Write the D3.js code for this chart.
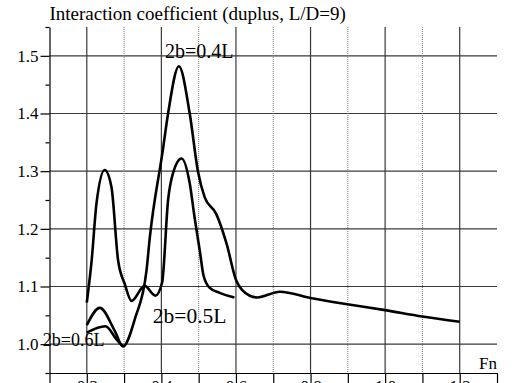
<!DOCTYPE html>
<html>
<head>
<meta charset="utf-8">
<script src="https://cdn.jsdelivr.net/npm/d3@7"></script>
<style>
    body { margin: 0; background: #fff; }
    svg text { font-family: "Liberation Serif", "Times New Roman", serif; fill: #000; }
</style>
</head>
<body>
<svg id="chart" width="514" height="383"></svg>
<script>
// values (Fn, interaction coefficient)
var fn04 = [0.2, 0.235, 0.275, 0.297, 0.33, 0.36, 0.369, 0.404, 0.418, 0.447, 0.476, 0.498, 0.516, 0.547, 0.575, 0.601, 0.637, 0.657, 0.718, 0.8, 0.89, 1.0, 1.1, 1.2];
var k04 = [1.033, 1.063, 1.023, 0.996, 1.046, 1.127, 1.185, 1.337, 1.40, 1.482, 1.40, 1.30, 1.255, 1.226, 1.174, 1.11, 1.084, 1.081, 1.091, 1.08, 1.07, 1.059, 1.048, 1.039];

var fn05 = [0.2, 0.213, 0.226, 0.248, 0.266, 0.284, 0.302, 0.32, 0.355, 0.384, 0.402, 0.418, 0.431, 0.454, 0.476, 0.489, 0.503, 0.513, 0.529, 0.556, 0.596];
var k05 = [1.072, 1.145, 1.244, 1.302, 1.273, 1.145, 1.104, 1.075, 1.101, 1.084, 1.107, 1.25, 1.296, 1.322, 1.279, 1.22, 1.162, 1.119, 1.098, 1.089, 1.081];

var fn06 = [0.2, 0.25, 0.28, 0.297];
var k06 = [1.02, 1.031, 1.008, 0.996];

var xTicks = [0.1, 0.2, 0.3, 0.4, 0.5, 0.6, 0.7, 0.8, 0.9, 1.0, 1.1, 1.2, 1.3];
var xLabelTicks = [0.2, 0.4, 0.6, 0.8, 1.0, 1.2];
var xDottedTicks = [0.3, 0.5, 0.7, 0.9, 1.1];
var yMajorTicks = [1.0, 1.1, 1.2, 1.3, 1.4, 1.5];
var yMinorTicks = [0.95, 1.05, 1.15, 1.25, 1.35, 1.45, 1.55];

var titleText = "Interaction coefficient (duplus, L/D=9)";
var labelText = ["2b=0.4L", "2b=0.5L", "2b=0.6L", "Fn"];
var labelFn = [0.41, 0.377, 0.082, 1.252];
var labelK = [1.497, 1.037, 0.997, 0.957];

var draw = function() {
    var svg = d3.select("#chart");

    var x = d3.scaleLinear().domain([0.1, 1.3]).range([49.5, 497]);
    var y = d3.scaleLinear().domain([0.95, 1.55]).range([373, 27]);

    // grid
    var grid = svg.append("g").attr("class", "grid");
    grid.selectAll("line.h").data(yMajorTicks).enter().append("line")
        .attr("class", "h")
        .attr("x1", x(0.1)).attr("x2", x(1.3))
        .attr("y1", function(d) { return y(d); })
        .attr("y2", function(d) { return y(d); })
        .attr("stroke", "#3a3a3a").attr("stroke-width", 1.2);

    grid.selectAll("line.v").data(xLabelTicks).enter().append("line")
        .attr("class", "v")
        .attr("x1", function(d) { return x(d); })
        .attr("x2", function(d) { return x(d); })
        .attr("y1", y(1.55)).attr("y2", y(0.95))
        .attr("stroke", "#3a3a3a").attr("stroke-width", 1.2);

    grid.selectAll("line.d").data(xDottedTicks).enter().append("line")
        .attr("class", "d")
        .attr("x1", function(d) { return x(d); })
        .attr("x2", function(d) { return x(d); })
        .attr("y1", y(1.55)).attr("y2", y(0.95))
        .attr("stroke", "#777").attr("stroke-dasharray", "1,1");

    // axes
    svg.append("g")
        .attr("transform", "translate(" + x(0.1) + ",0)")
        .call(d3.axisLeft(y).tickValues(yMinorTicks).tickSize(4).tickSizeOuter(0).tickFormat(""));

    var yAxis = svg.append("g")
        .attr("transform", "translate(" + x(0.1) + ",0)")
        .call(d3.axisLeft(y).tickValues(yMajorTicks).tickSize(9).tickSizeOuter(0)
            .tickPadding(2).tickFormat(d3.format(".1f")))
        .attr("font-size", 17);
    yAxis.select(".domain").remove();

    svg.append("g")
        .attr("transform", "translate(0," + y(0.95) + ")")
        .call(d3.axisBottom(x).tickValues(xTicks).tickSize(10).tickSizeOuter(0).tickPadding(-3)
            .tickFormat(function(d) { return xLabelTicks.indexOf(d) >= 0 ? d3.format(".1f")(d) : ""; }))
        .attr("font-size", 17);

    svg.selectAll(".tick line, .domain").attr("stroke", "#000").attr("stroke-width", 1.2);

    // curves
    var line = d3.line()
        .x(function(d) { return x(d[0]); })
        .y(function(d) { return y(d[1]); })
        .curve(d3.curveMonotoneX);

    [d3.zip(fn04, k04), d3.zip(fn05, k05), d3.zip(fn06, k06)].forEach(function(s) {
        svg.append("path")
            .attr("d", line(s))
            .attr("fill", "none")
            .attr("stroke", "#000")
            .attr("stroke-width", 2.6)
            .attr("stroke-linejoin", "round");
    });

    // texts
    svg.append("text")
        .attr("x", x(0.1)).attr("y", 19.5)
        .attr("font-size", 19)
        .text(titleText);

    var sizes = [20, 21.5, 18, 17];
    svg.selectAll("text.lbl").data(labelText).enter().append("text")
        .attr("class", "lbl")
        .attr("x", function(d, i) { return x(labelFn[i]); })
        .attr("y", function(d, i) { return y(labelK[i]); })
        .attr("font-size", function(d, i) { return sizes[i]; })
        .text(function(d) { return d; });
};

draw();
</script>
</body>
</html>
